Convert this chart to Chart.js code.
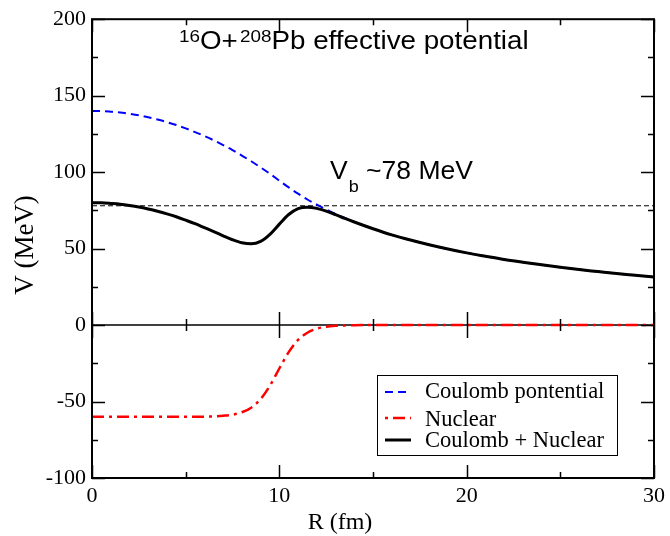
<!DOCTYPE html>
<html>
<head>
<meta charset="utf-8">
<script src="https://cdn.jsdelivr.net/npm/chart.js@4/dist/chart.umd.min.js"></script>
<style>
html,body{margin:0;padding:0;background:#fff;}
#c{display:block;}
</style>
</head>
<body>
<canvas id="c" width="670" height="536"></canvas>
<script>
// ---- data ----
const R = [0,0.5,1,1.5,2,2.5,3,3.5,4,4.5,5,5.5,6,6.5,7,7.5,8,8.5,9,9.5,10,10.5,11,11.5,12,12.5,13,13.5,14,
           15,16,17,18,19,20,21,22,23,24,25,26,27,28,29,30];
const coulomb = [140.0,139.9,139.5,139.0,138.2,137.2,135.9,134.4,132.7,130.8,128.6,126.2,123.6,120.8,117.7,114.4,
                 110.8,107.1,103.1,98.9,94.4,90.0,85.9,82.1,78.7,75.6,72.7,70.0,67.5,
                 63.0,59.0,55.6,52.5,49.7,47.2,45.0,42.9,41.1,39.4,37.8,36.3,35.0,33.7,32.6,31.5];
const nuclear = [-60.0,-60.0,-60.0,-60.0,-60.0,-60.0,-60.0,-60.0,-60.0,-60.0,-60.0,-59.9,-59.9,-59.7,-59.3,-58.6,
                 -57.0,-54.0,-48.4,-39.6,-28.4,-17.7,-9.7,-5.0,-2.4,-1.1,-0.5,-0.3,-0.1,
                 0,0,0,0,0,0,0,0,0,0,0,0,0,0,0,0];
const total = [80.0,79.9,79.5,79.0,78.2,77.2,75.9,74.4,72.7,70.8,68.6,66.3,63.7,61.1,58.4,55.8,
               53.8,53.1,54.7,59.3,66.0,72.3,76.2,77.1,76.3,74.5,72.2,69.7,67.4,
               63.0,59.0,55.6,52.5,49.7,47.2,45.0,42.9,41.1,39.4,37.8,36.3,35.0,33.7,32.6,31.5];
const lineR = [0,30];
const barrier = [78,78];
const zeroLine = [0,0];
const xMajor = [0,10,20,30];
const xMinor = [5,15,25];
const yMajor = [-100,-50,0,50,100,150,200];
const yMinor = [-75,-25,25,75,125,175];
const seriesLabels = ['Coulomb pontential','Nuclear','Coulomb + Nuclear'];
const titleParts = ['16','O+','208','Pb effective potential'];
const vbParts = ['V','b',' ~78 MeV'];
const xTitle = 'R (fm)';
const yTitle = 'V (MeV)';

const pts = (xs, ys) => xs.map((x,i)=>({x:x, y:ys[i]}));
const SERIF = '"Liberation Serif", "DejaVu Serif", serif';
const SANS = '"Liberation Sans", Arial, sans-serif';

function stretchedText(ctx, parts, x0, sx){
  // parts: [text, fontSize, baselineY, extraGapAfter]
  ctx.save();
  ctx.translate(x0, 0);
  ctx.scale(sx, 1);
  let x = 0;
  parts.forEach(p=>{
    ctx.font = p[1]+'px '+SANS;
    ctx.fillText(p[0], x, p[2]);
    x += ctx.measureText(p[0]).width + (p[3]||0);
  });
  ctx.restore();
}

const decor = {
  id:'decor',
  afterDatasetsDraw(chart){
    const ctx = chart.ctx, a = chart.chartArea;
    const xs = chart.scales.x, ys = chart.scales.y;
    ctx.save();
    ctx.strokeStyle = '#000';
    // frame
    ctx.lineWidth = 2;
    ctx.strokeRect(a.left, a.top, a.right-a.left, a.bottom-a.top);
    // ticks
    ctx.lineWidth = 1.5;
    const MJ = 13, MN = 6;
    const z = ys.getPixelForValue(0);
    ctx.beginPath();
    xMajor.forEach(v=>{const p=Math.round(xs.getPixelForValue(v))+0.5;
      ctx.moveTo(p,a.bottom); ctx.lineTo(p,a.bottom-MJ);
      ctx.moveTo(p,a.top); ctx.lineTo(p,a.top+MJ);
      ctx.moveTo(p,z-MJ); ctx.lineTo(p,z+MJ);});
    xMinor.forEach(v=>{const p=Math.round(xs.getPixelForValue(v))+0.5;
      ctx.moveTo(p,a.bottom); ctx.lineTo(p,a.bottom-MN);
      ctx.moveTo(p,a.top); ctx.lineTo(p,a.top+MN);
      ctx.moveTo(p,z-MN); ctx.lineTo(p,z+MN);});
    yMajor.forEach(v=>{const p=Math.round(ys.getPixelForValue(v))+0.5;
      ctx.moveTo(a.left,p); ctx.lineTo(a.left+MJ,p);
      ctx.moveTo(a.right,p); ctx.lineTo(a.right-MJ,p);});
    yMinor.forEach(v=>{const p=Math.round(ys.getPixelForValue(v))+0.5;
      ctx.moveTo(a.left,p); ctx.lineTo(a.left+MN,p);
      ctx.moveTo(a.right,p); ctx.lineTo(a.right-MN,p);});
    ctx.stroke();

    ctx.fillStyle = '#000';
    ctx.textBaseline = 'alphabetic';
    ctx.textAlign = 'left';
    // title
    stretchedText(ctx, [[titleParts[0],17,42,0],[titleParts[1],25,49,2],[titleParts[2],17,42,0],[titleParts[3],25,49,0]], 179, 1.11);
    // V_b label
    stretchedText(ctx, [[vbParts[0],25,179,1],[vbParts[1],17,192,0],[vbParts[2],25,179,0]], 330, 1.06);

    // axis titles
    ctx.font = '24px '+SERIF;
    ctx.textAlign = 'center';
    ctx.fillText(xTitle, 340, 529);
    ctx.save();
    ctx.translate(33, 245);
    ctx.rotate(-Math.PI/2);
    ctx.font = '27px '+SERIF;
    ctx.fillText(yTitle, 0, 0);
    ctx.restore();

    // legend
    ctx.lineWidth = 1;
    ctx.strokeStyle = '#000';
    ctx.strokeRect(377.5, 375.5, 240, 80);
    const rows = [{ds:0, y:392, ty:398},{ds:1, y:418, ty:426},{ds:2, y:440, ty:447}];
    ctx.font = '22.5px '+SERIF;
    ctx.textAlign = 'left';
    rows.forEach(r=>{
      const d = chart.data.datasets[r.ds];
      ctx.save();
      ctx.strokeStyle = d.borderColor;
      ctx.lineWidth = d.borderWidth;
      ctx.setLineDash(d.borderDash || []);
      ctx.lineDashOffset = d.legendDashOffset || 0;
      ctx.beginPath(); ctx.moveTo(385, r.y); ctx.lineTo(411, r.y); ctx.stroke();
      ctx.restore();
      ctx.fillText(d.label, 425, r.ty);
    });
    ctx.restore();
  }
};

new Chart(document.getElementById('c'), {
  type:'line',
  data:{
    datasets:[
      {label:seriesLabels[0], data:pts(R,coulomb), borderColor:'#0000ff', borderWidth:2, borderDash:[8,5],
       pointRadius:0, cubicInterpolationMode:'monotone', order:2},
      {label:seriesLabels[1], data:pts(R,nuclear), borderColor:'#ff0000', borderWidth:2.5, borderDash:[12,5,3,5],
       legendDashOffset:17, pointRadius:0, cubicInterpolationMode:'monotone', order:1},
      {label:seriesLabels[2], data:pts(R,total), borderColor:'#000000', borderWidth:3,
       pointRadius:0, cubicInterpolationMode:'monotone', order:0},
      {label:'barrier', data:pts(lineR,barrier), borderColor:'#000000', borderWidth:1, borderDash:[5,3],
       pointRadius:0, order:3},
      {label:'zero', data:pts(lineR,zeroLine), borderColor:'#000000', borderWidth:1.5,
       pointRadius:0, order:4}
    ]
  },
  options:{
    responsive:false,
    animation:false,
    devicePixelRatio:1,
    layout:{padding:{top:14,right:13,left:0,bottom:0}},
    plugins:{legend:{display:false}, tooltip:{enabled:false}, title:{display:false}},
    scales:{
      x:{type:'linear', min:0, max:30,
         ticks:{stepSize:10, color:'#000', font:{family:SERIF, size:22}, padding:5, maxRotation:0},
         grid:{display:false, drawTicks:false}, border:{display:false},
         afterFit(s){ s.height = 58; }},
      y:{type:'linear', min:-100, max:200,
         ticks:{stepSize:50, color:'#000', font:{family:SERIF, size:22}, padding:6},
         grid:{display:false, drawTicks:false}, border:{display:false},
         afterFit(s){ s.width = 92; }}
    }
  },
  plugins:[decor]
});
</script>
</body>
</html>
